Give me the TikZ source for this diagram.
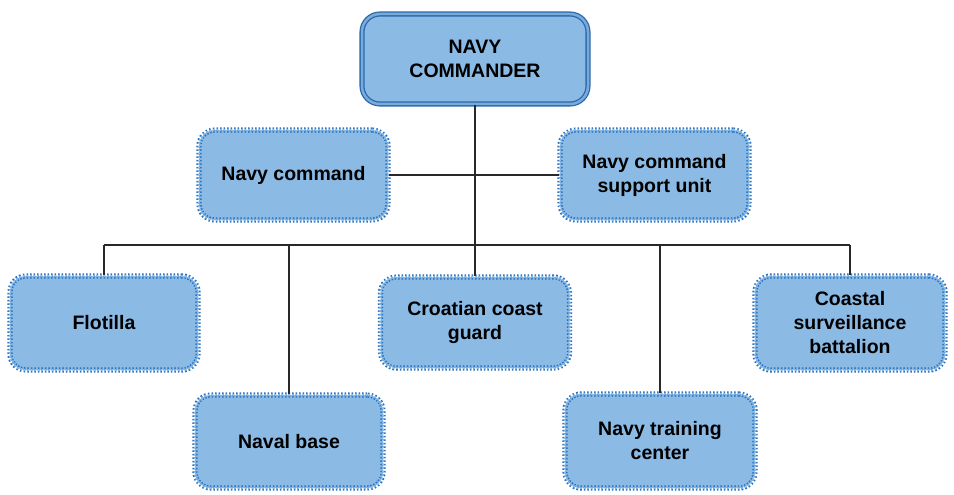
\documentclass[tikz,border=0pt]{standalone}
\usepackage{fontspec}
\setmainfont{Liberation Sans}
\definecolor{boxfill}{RGB}{139,186,229}
\definecolor{boxline}{RGB}{38,112,190}
\definecolor{cmdline}{RGB}{45,105,170}
\definecolor{cmdgap}{RGB}{120,170,220}
\definecolor{wire}{RGB}{40,40,40}
\begin{document}
\begin{tikzpicture}[x=1pt,y=-1pt,
  unitbox/.style={draw=boxline, fill=boxfill, rounded corners=16pt, line width=1.5pt,
    dotted, double=boxfill, double distance=2.2pt, align=center,
    font=\fontsize{19.5}{24}\selectfont\bfseries, text=black, inner sep=2pt},
  topbox/.style={draw=cmdline, fill=boxfill, rounded corners=18pt, line width=1.3pt,
    double=cmdgap, double distance=2.5pt, align=center,
    font=\fontsize{19.5}{24}\selectfont\bfseries, text=black, inner sep=2pt},
  wireline/.style={draw=wire, line width=1.5pt}]
\useasboundingbox (0,0) rectangle (954,495);
\fill[white] (0,0) rectangle (954,495);
% nodes
\node[topbox, minimum width=226pt, minimum height=90pt] (cmdr) at (475,59) {NAVY\\COMMANDER};
\node[unitbox, minimum width=189pt, minimum height=90pt] (ncmd) at (293.5,175) {Navy command};
\node[unitbox, minimum width=189pt, minimum height=90pt] (nsup) at (654.5,175) {Navy command\\support unit};
\node[unitbox, minimum width=188pt, minimum height=94pt] (flot) at (104,323) {Flotilla};
\node[unitbox, minimum width=189pt, minimum height=91pt] (ccg) at (475,322.5) {Croatian coast\\guard};
\node[unitbox, minimum width=190pt, minimum height=94pt] (csb) at (850,323) {Coastal\\surveillance\\battalion};
\node[unitbox, minimum width=188pt, minimum height=93pt] (nbase) at (289,441.5) {Naval base};
\node[unitbox, minimum width=190pt, minimum height=94pt] (ntc) at (660,441) {Navy training\\center};
% connectors
\coordinate (bus) at (475,245);
\coordinate (busL) at (104,245);
\coordinate (busR) at (850,245);
\draw[wireline] (cmdr.south) -- (bus);
\draw[wireline] (ncmd.east) -- (nsup.west);
\draw[wireline] (busL) -- (busR);
\draw[wireline] (busL) -- (flot.north);
\draw[wireline] (bus) -- (ccg.north);
\draw[wireline] (busR) -- (csb.north);
\draw[wireline] (nbase.north) -- (nbase.north |- bus);
\draw[wireline] (ntc.north) -- (ntc.north |- bus);
\end{tikzpicture}
\end{document}
